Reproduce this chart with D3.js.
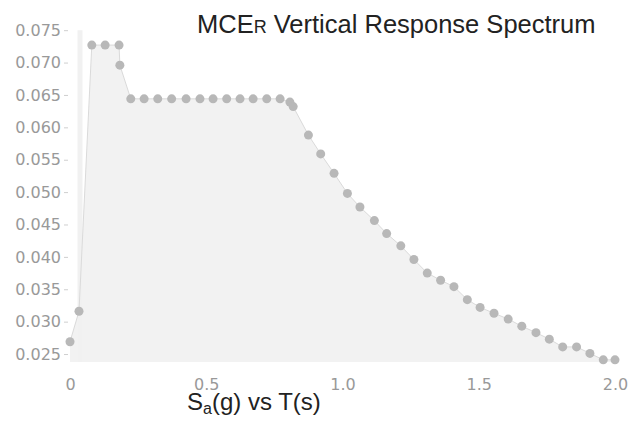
<!DOCTYPE html>
<html>
<head>
<meta charset="utf-8">
<script src="https://cdn.jsdelivr.net/npm/d3@7"></script>
<style>
  body { margin: 0; background: #fff; }
  svg { display: block; }
</style>
</head>
<body>
<div id="plotarea"></div>
<script>
// periods T (s) and spectral accel Sa (g)
var periods = [0, 0.033, 0.080, 0.129, 0.180, 0.183,
  0.223, 0.272, 0.322, 0.373, 0.426, 0.477, 0.525, 0.575, 0.624, 0.672, 0.722, 0.771, 0.807,
  0.819, 0.875, 0.920, 0.969, 1.018, 1.064, 1.117, 1.162, 1.214, 1.262, 1.311, 1.360,
  1.409, 1.458, 1.505, 1.556, 1.608, 1.658, 1.710, 1.759, 1.808, 1.859, 1.908, 1.957, 2.0];
var accel = [0.0269, 0.0316, 0.0727, 0.0727, 0.0727, 0.0696,
  0.0644, 0.0644, 0.0644, 0.0644, 0.0644, 0.0644, 0.0644, 0.0644, 0.0644, 0.0644, 0.0644, 0.0644, 0.0639,
  0.0632, 0.0588, 0.0559, 0.0529, 0.0498, 0.0477, 0.0456, 0.0436, 0.0417, 0.0396, 0.0375, 0.0364,
  0.0354, 0.0334, 0.0322, 0.0313, 0.0304, 0.0293, 0.0283, 0.0273, 0.0261, 0.0261, 0.0251, 0.0241, 0.0241];
var xTicks = [0, 0.5, 1.0, 1.5, 2.0];
var xTickLabels = ["0", "0.5", "1.0", "1.5", "2.0"];
var yTicks = [0.025, 0.030, 0.035, 0.040, 0.045, 0.050, 0.055, 0.060, 0.065, 0.070, 0.075];

var W = 630, H = 422;
var mLeft = 70, mRight = 615, mTop = 25, mBottom = 362;

var svg = d3.select("#plotarea").append("svg")
  .attr("width", W)
  .attr("height", H);

var data = periods.map(function(t, i) { return { t: t, v: accel[i] }; });

var x = d3.scaleLinear().domain([0, 2.0]).range([mLeft, mRight]);
var y = d3.scaleLinear().domain([0.02377, 0.0758]).range([mBottom, mTop]);

// area under the curve
var area = d3.area()
  .x(function(d) { return x(d.t); })
  .y0(mBottom)
  .y1(function(d) { return y(d.v); });

svg.append("path")
  .datum(data)
  .attr("d", area)
  .attr("fill", "#f2f2f2");

// faint left border of plot
svg.append("line")
  .attr("x1", mLeft + 10).attr("x2", mLeft + 10)
  .attr("y1", y(0.075)).attr("y2", mBottom)
  .attr("stroke", "#f1f1f1")
  .attr("stroke-width", 5);

var line = d3.line()
  .x(function(d) { return x(d.t); })
  .y(function(d) { return y(d.v); });

svg.append("path")
  .datum(data)
  .attr("d", line)
  .attr("fill", "none")
  .attr("stroke", "#dadada")
  .attr("stroke-width", 1);

svg.selectAll("circle.pt")
  .data(data)
  .enter().append("circle")
  .attr("class", "pt")
  .attr("cx", function(d) { return x(d.t); })
  .attr("cy", function(d) { return y(d.v); })
  .attr("r", 4.5)
  .attr("fill", "#b8b8b8");

// axes
var yAxis = svg.append("g")
  .attr("transform", "translate(" + (mLeft - 2) + ",0)")
  .call(d3.axisLeft(y).tickValues(yTicks).tickFormat(d3.format(".3f")).tickSize(4).tickPadding(3));
yAxis.select(".domain").remove();
yAxis.selectAll("line").attr("stroke", "#cfcfcf");
yAxis.selectAll("text")
  .attr("fill", "#999")
  .style("font-family", "DejaVu Sans")
  .style("font-size", "16px");

var xAxis = svg.append("g")
  .attr("transform", "translate(0," + mBottom + ")")
  .call(d3.axisBottom(x).tickValues(xTicks)
    .tickFormat(function(d, i) { return xTickLabels[i]; })
    .tickSize(0).tickPadding(17));
xAxis.select(".domain").remove();
xAxis.selectAll("text")
  .attr("fill", "#999")
  .style("font-family", "DejaVu Sans")
  .style("font-size", "16px");

// title
var title = svg.append("text")
  .attr("x", 197)
  .attr("y", 33)
  .attr("fill", "#222")
  .style("font-family", "Liberation Sans, Arial, sans-serif")
  .style("font-size", "25.5px");
title.append("tspan").text("MCE");
title.append("tspan").style("font-size", "18px").text("R");
title.append("tspan").text(" Vertical Response Spectrum");

// x label
var xl = svg.append("text")
  .attr("x", 187)
  .attr("y", 410)
  .attr("fill", "#222")
  .style("font-family", "Liberation Sans, Arial, sans-serif")
  .style("font-size", "24px");
xl.append("tspan").text("S");
xl.append("tspan").attr("dy", 4).style("font-size", "16px").text("a");
xl.append("tspan").attr("dy", -4).text("(g) vs T(s)");
</script>
</body>
</html>
